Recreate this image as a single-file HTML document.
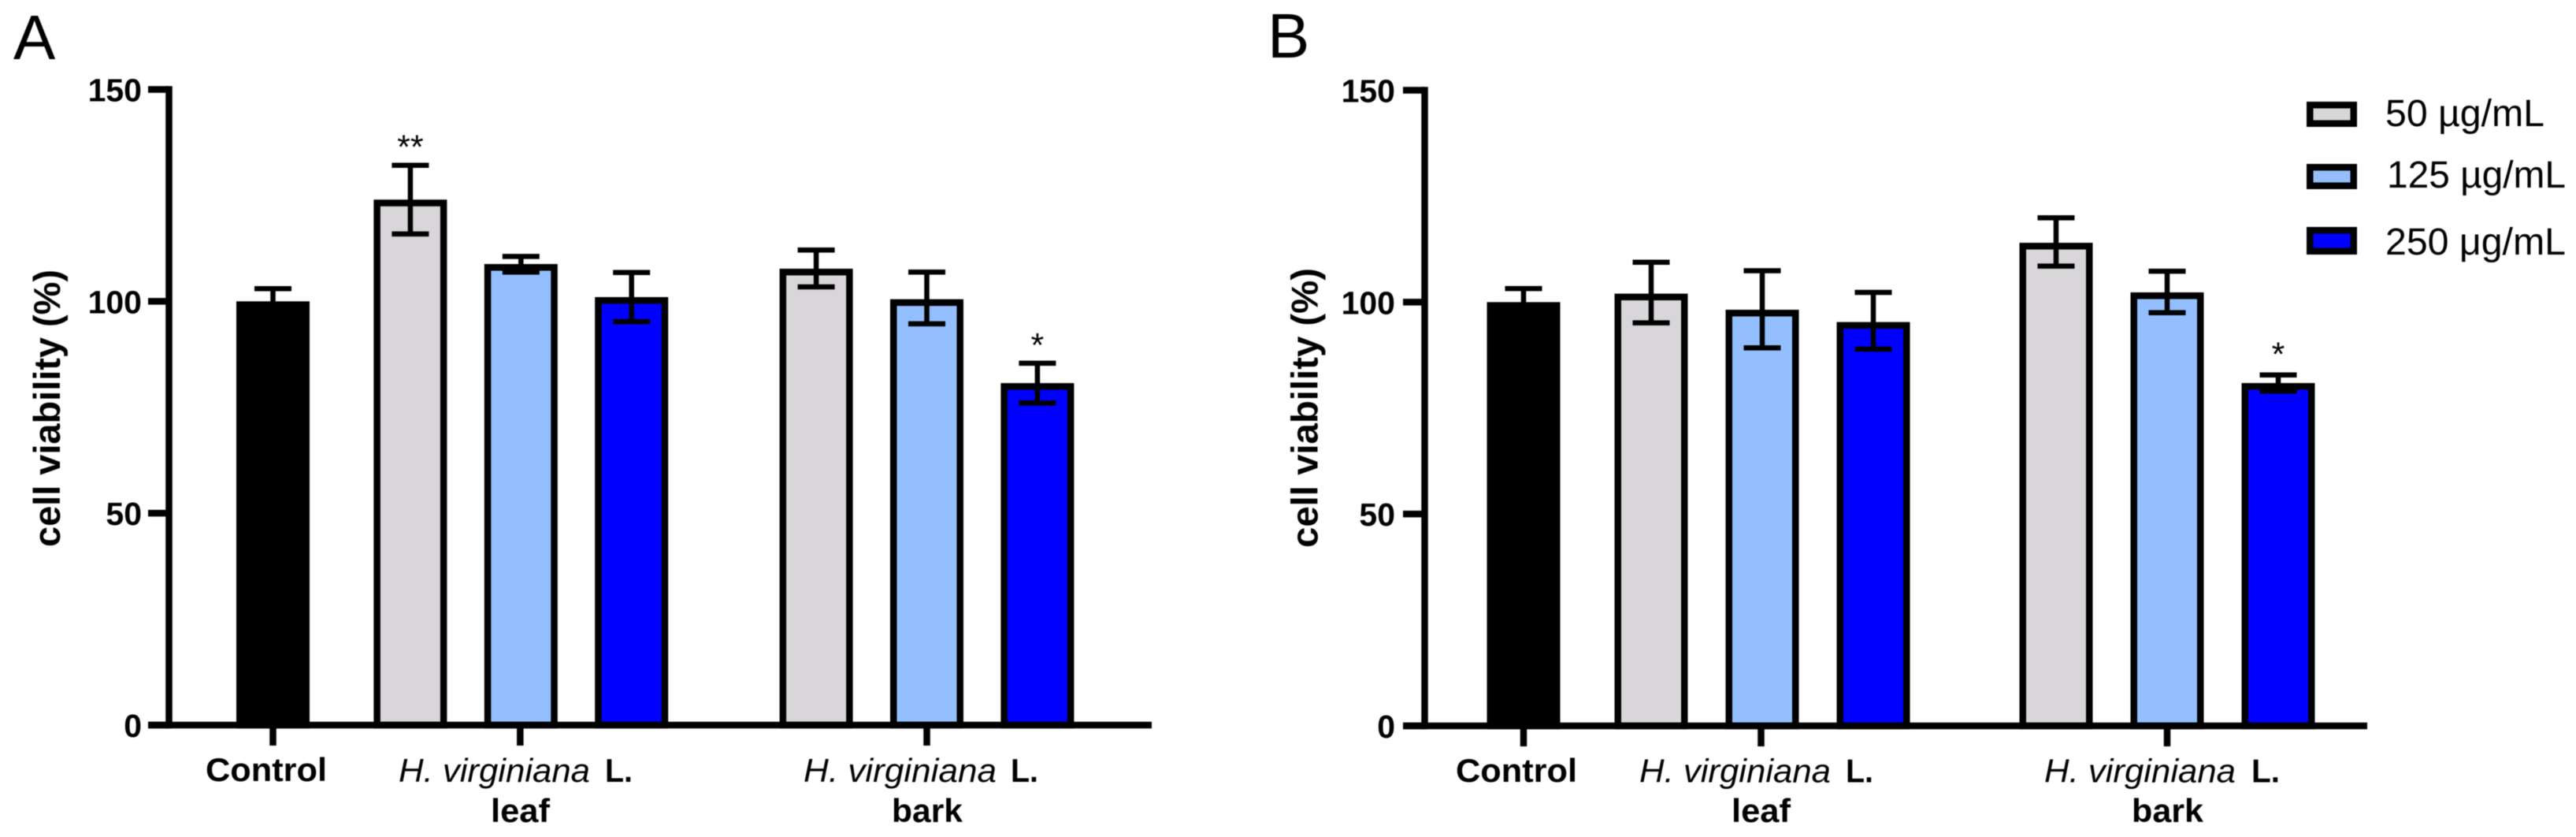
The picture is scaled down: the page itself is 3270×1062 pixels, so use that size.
<!DOCTYPE html>
<html lang="en">
<head>
<meta charset="utf-8">
<title>Cell viability charts</title>
<style>
html,body{margin:0;padding:0;background:#fff;width:3270px;height:1062px;overflow:hidden}
svg{display:block;filter:blur(0.5px)}
text{font-family:"Liberation Sans",Arial,sans-serif;fill:#000}
.b{font-weight:bold}
.i{font-style:italic}
</style>
</head>
<body>
<svg id="figure" xmlns="http://www.w3.org/2000/svg" width="3270" height="1062" viewBox="0 0 3270 1062">
  <rect width="3270" height="1062" fill="#fff"/>

  <g id="panelA">
    <text x="17" y="75" font-size="80">A</text>
    <text class="b" font-size="47" text-anchor="middle" textLength="352" lengthAdjust="spacingAndGlyphs" transform="translate(76 518) rotate(-90)">cell viability (%)</text>
    <text class="b" font-size="42" x="261" y="991" textLength="154" lengthAdjust="spacingAndGlyphs">Control</text>
    <text class="i" font-size="42" x="506" y="992" textLength="243" lengthAdjust="spacingAndGlyphs">H. virginiana</text>
    <text class="b" font-size="42" x="768" y="992" textLength="35" lengthAdjust="spacingAndGlyphs">L.</text>
    <text class="b" font-size="42" x="623" y="1043" textLength="75" lengthAdjust="spacingAndGlyphs">leaf</text>
    <text class="i" font-size="42" x="1020" y="992" textLength="245" lengthAdjust="spacingAndGlyphs">H. virginiana</text>
    <text class="b" font-size="42" x="1283" y="992" textLength="35" lengthAdjust="spacingAndGlyphs">L.</text>
    <text class="b" font-size="42" x="1132" y="1043" textLength="90" lengthAdjust="spacingAndGlyphs">bark</text>
  </g>

  <g id="panelB">
    <text x="1609" y="73" font-size="80">B</text>
    <text class="b" font-size="47" text-anchor="middle" textLength="355" lengthAdjust="spacingAndGlyphs" transform="translate(1672.5 517.5) rotate(-90)">cell viability (%)</text>
    <text class="b" font-size="42" x="1848" y="992" textLength="154" lengthAdjust="spacingAndGlyphs">Control</text>
    <text class="i" font-size="42" x="2081" y="992.5" textLength="243" lengthAdjust="spacingAndGlyphs">H. virginiana</text>
    <text class="b" font-size="42" x="2343" y="992.5" textLength="35" lengthAdjust="spacingAndGlyphs">L.</text>
    <text class="b" font-size="42" x="2198" y="1043" textLength="75" lengthAdjust="spacingAndGlyphs">leaf</text>
    <text class="i" font-size="42" x="2595" y="992.5" textLength="243" lengthAdjust="spacingAndGlyphs">H. virginiana</text>
    <text class="b" font-size="42" x="2858" y="992.5" textLength="36" lengthAdjust="spacingAndGlyphs">L.</text>
    <text class="b" font-size="42" x="2706" y="1043" textLength="91" lengthAdjust="spacingAndGlyphs">bark</text>
  </g>

  <g id="legend">
    <rect x="2932.25" y="133.25" width="55.5" height="23.5" fill="#d9d6da" stroke="#000" stroke-width="8.5"/>
    <text x="3028" y="160" font-size="48" textLength="202" lengthAdjust="spacingAndGlyphs">50 µg/mL</text>
    <rect x="2932.25" y="212.25" width="55.5" height="23.5" fill="#94bfff" stroke="#000" stroke-width="8.5"/>
    <text x="3030" y="238" font-size="48" textLength="227" lengthAdjust="spacingAndGlyphs">125 µg/mL</text>
    <rect x="2932.25" y="292.25" width="55.5" height="26.5" fill="#0000ff" stroke="#000" stroke-width="8.5"/>
    <text x="3028" y="323" font-size="48" textLength="229" lengthAdjust="spacingAndGlyphs">250 μg/mL</text>
  </g>
</svg>
<script>
const categories = ['control', 'leaf-50', 'leaf-125', 'leaf-250', 'bark-50', 'bark-125', 'bark-250'];
const categoryDoses = ['control', '50', '125', '250', '50', '125', '250'];
const yTickLabels = [0, 50, 100, 150];

const panelAMeans = [100, 124, 108.8, 101, 107.7, 100.5, 80.7];
const panelAUpper = [103, 132.1, 110.6, 106.8, 112.1, 106.9, 85.4];
const panelALower = [97, 115.9, 106.9, 95.2, 103.4, 94.7, 76];
const panelASignificance = ['', '**', '', '', '', '', '*'];

const panelBMeans = [100, 102, 98.2, 95.3, 114, 102.3, 80.9];
const panelBUpper = [103.2, 109.4, 107.4, 102.3, 119.9, 107.3, 82.8];
const panelBLower = [96.8, 95.1, 89.2, 88.9, 108.5, 97.5, 79];
const panelBSignificance = ['', '', '', '', '', '', '*'];

const doseColors = {control: '#000000', '50': '#d9d6da', '125': '#94bfff', '250': '#0000ff'};
const SVGNS = 'http://www.w3.org/2000/svg';
const STROKE = 8.5;
const BAR_WIDTH = 93;
const CAP_HALF = 23.5;
const STAR_FONT = 43;
const STAR_CENTER = 0.58 * STAR_FONT;

function make(parent, tag, attrs) {
  const el = document.createElementNS(SVGNS, tag);
  for (const k in attrs) el.setAttribute(k, attrs[k]);
  parent.appendChild(el);
  return el;
}

function drawPanel(parent, id, means, upper, lower, marks, frame) {
  const yScale = v => frame.y0 - v * (frame.y0 - frame.yTop) / 150;
  const xScale = i => frame.start + frame.step * i + (i >= 1 ? frame.gap1 : 0) + (i >= 4 ? frame.gap2 : 0);

  categories.forEach((name, i) => {
    const x = xScale(i);
    const top = yScale(means[i]);
    const bar = make(parent, 'rect', {
      x: x - BAR_WIDTH / 2 + STROKE / 2,
      y: top + STROKE / 2,
      width: BAR_WIDTH - STROKE,
      height: frame.y0 - top - STROKE / 2,
      fill: doseColors[categoryDoses[i]],
      stroke: '#000',
      'stroke-width': STROKE
    });
    
    

    const err = make(parent, 'path', {
      d: 'M' + (x - CAP_HALF) + ' ' + yScale(upper[i]) + 'H' + (x + CAP_HALF) +
         'M' + x + ' ' + yScale(upper[i]) + 'V' + yScale(lower[i]) +
         'M' + (x - CAP_HALF) + ' ' + yScale(lower[i]) + 'H' + (x + CAP_HALF),
      fill: 'none',
      stroke: '#000',
      'stroke-width': 6.5
    });
    
    

    if (marks[i]) {
      const star = make(parent, 'text', {
        x: x,
        y: yScale(upper[i]) - frame.starGap + STAR_CENTER,
        'font-size': STAR_FONT,
        'text-anchor': 'middle'
      });
      star.textContent = marks[i];
      
      
    }
  });

  const yAxis = make(parent, 'rect', {
    x: frame.axisX - STROKE / 2,
    y: frame.yTop - STROKE / 2,
    width: STROKE,
    height: frame.y0 - frame.yTop + STROKE,
    fill: '#000'
  });
  
  

  const xAxis = make(parent, 'rect', {
    x: frame.axisX - frame.tickLen,
    y: frame.y0 - STROKE / 2,
    width: frame.xEnd - frame.axisX + frame.tickLen,
    height: STROKE,
    fill: '#000'
  });
  
  

  yTickLabels.forEach(v => {
    const tick = make(parent, 'rect', {
      x: frame.axisX - frame.tickLen,
      y: yScale(v) - STROKE / 2,
      width: frame.tickLen,
      height: STROKE,
      fill: '#000'
    });
    
    

    const label = make(parent, 'text', {
      x: frame.labelX,
      y: yScale(v) + 15,
      'font-size': 41,
      'font-weight': 'bold',
      'text-anchor': 'end'
    });
    label.textContent = String(v);
    
    
  });

  [0, 2, 5].forEach(i => {
    const xt = make(parent, 'rect', {
      x: xScale(i) - STROKE / 2 + (i === 2 ? frame.leafTickShift : 0),
      y: frame.y0,
      width: STROKE,
      height: 26,
      fill: '#000'
    });
    
    
  });
}

drawPanel(document.getElementById('panelA'), 'a', panelAMeans, panelAUpper, panelALower, panelASignificance, {
  axisX: 214.5, y0: 920, yTop: 113.5, start: 346.5, step: 140.4, gap1: 34, gap2: 94,
  xEnd: 1462, tickLen: 26.5, labelX: 180, leafTickShift: -1, starGap: 33.5
});
drawPanel(document.getElementById('panelB'), 'b', panelBMeans, panelBUpper, panelBLower, panelBSignificance, {
  axisX: 1808.5, y0: 921, yTop: 114.5, start: 1934, step: 141, gap1: 21, gap2: 91,
  xEnd: 3005, tickLen: 27.5, labelX: 1771, leafTickShift: -1.5, starGap: 37
});
</script>
</body>
</html>
